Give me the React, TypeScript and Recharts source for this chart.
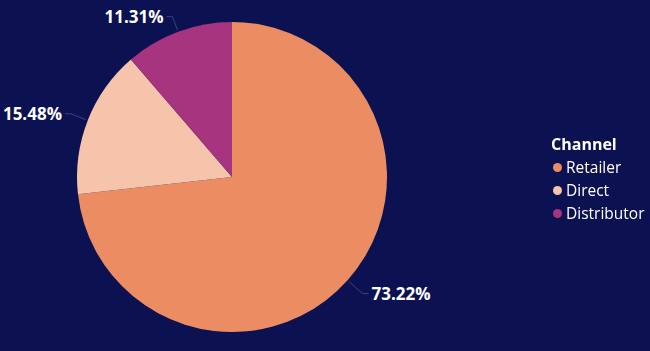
import React from "react";
import { PieChart, Pie, Cell, Legend } from "recharts";

const channels = ["Retailer", "Direct", "Distributor"];
const shares = [73.22, 15.48, 11.31];
const colors = ["#EB8C62", "#F5C4AA", "#A6347E"];
const legendTitle = "Channel";

const data = channels.map((name, i) => ({ name, value: shares[i] }));

const RAD = Math.PI / 180;

const renderLabel = (props: any) => {
  const { cx, cy, midAngle, outerRadius, index } = props;
  const cos = Math.cos(-midAngle * RAD);
  const sin = Math.sin(-midAngle * RAD);
  const sx = cx + (outerRadius + 2) * cos;
  const sy = cy + (outerRadius + 2) * sin;
  const ext = sin > 0 ? 20 : sin < -0.8 ? 16 : 18;
  const mx = cx + (outerRadius + ext) * cos;
  const my = cy + (outerRadius + ext) * sin;
  const right = cos >= 0;
  const ex = mx + (right ? 6 : -6);
  const ey = my;
  const tx = ex + (right ? 3 : -3);
  return (
    <g>
      <path
        d={`M${sx},${sy}L${mx},${my}L${ex},${ey}`}
        stroke="#3C4478"
        strokeWidth={1}
        fill="none"
      />
      <text
        x={tx}
        y={ey}
        textAnchor={right ? "start" : "end"}
        dominantBaseline="central"
        fill="#FFFFFF"
        fontSize={17}
        fontWeight={700}
        fontFamily="'Open Sans', 'Noto Sans', sans-serif"
      >
        {`${shares[index].toFixed(2)}%`}
      </text>
    </g>
  );
};

const renderLegend = () => (
  <div style={{ fontFamily: "'Open Sans', 'Noto Sans', sans-serif", color: "#FFFFFF" }}>
    <div style={{ fontWeight: 700, fontSize: 16, lineHeight: "24px" }}>{legendTitle}</div>
    {channels.map((c, i) => (
      <div key={c} style={{ display: "flex", alignItems: "center", fontSize: 15.5, lineHeight: "23px" }}>
        <span
          style={{
            display: "inline-block",
            width: 9,
            height: 9,
            borderRadius: "50%",
            background: colors[i],
            marginLeft: 2,
            marginRight: 4,
          }}
        />
        {c}
      </div>
    ))}
  </div>
);

export default function App() {
  return (
    <div
      style={{
        position: "fixed",
        left: 0,
        top: 0,
        width: 650,
        height: 351,
        background: "#0B1151",
      }}
    >
      <PieChart width={650} height={351} margin={{ top: 0, right: 0, bottom: 0, left: 0 }}>
        <Pie
          data={data}
          dataKey="value"
          nameKey="name"
          cx={232}
          cy={177}
          outerRadius={155}
          startAngle={90}
          endAngle={-270}
          stroke="none"
          label={renderLabel}
          labelLine={false}
          isAnimationActive={false}
        >
          {data.map((d, i) => (
            <Cell key={d.name} fill={colors[i]} />
          ))}
        </Pie>
        <Legend
          content={renderLegend}
          layout="vertical"
          wrapperStyle={{ position: "absolute", left: 551, top: 132, width: 100 }}
        />
      </PieChart>
    </div>
  );
}
